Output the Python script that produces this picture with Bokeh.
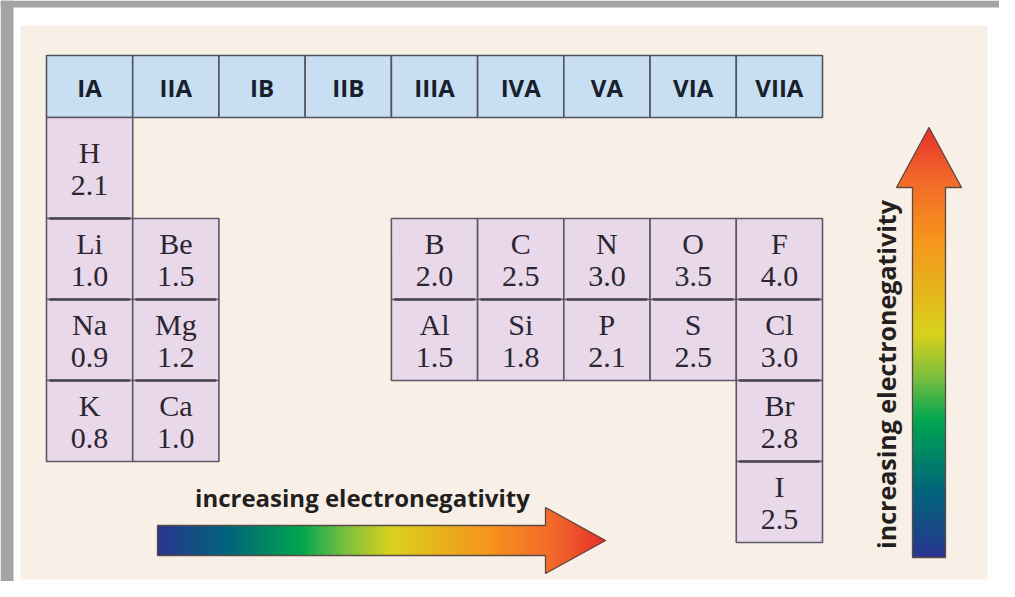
import numpy as np
from bokeh.plotting import figure
from bokeh.models import Range1d, ColumnDataSource
from bokeh.core.properties import value
from bokeh.embed import file_html
from bokeh.resources import INLINE

# ---------------- data ----------------
group_labels = ["IA", "IIA", "IB", "IIB", "IIIA", "IVA", "VA", "VIA", "VIIA"]
symbols = ["H", "Li", "Na", "K", "Be", "Mg", "Ca", "B", "Al", "C", "Si",
           "N", "P", "O", "S", "F", "Cl", "Br", "I"]
groups = ["IA", "IA", "IA", "IA", "IIA", "IIA", "IIA", "IIIA", "IIIA", "IVA", "IVA",
          "VA", "VA", "VIA", "VIA", "VIIA", "VIIA", "VIIA", "VIIA"]
periods = [1, 2, 3, 4, 2, 3, 4, 2, 3, 2, 3, 2, 3, 2, 3, 2, 3, 4, 5]
electronegativity = [2.1, 1.0, 0.9, 0.8, 1.5, 1.2, 1.0, 2.0, 1.5, 2.5, 1.8,
                     3.0, 2.1, 3.5, 2.5, 4.0, 3.0, 2.8, 2.5]
arrow_label = "increasing electronegativity"

# ---------------- layout (screen pixel units) ----------------
W, H = 999, 581
GRID_X0, GRID_X1 = 46.0, 822.0
CELL_W = (GRID_X1 - GRID_X0) / len(group_labels)
HEAD_Y0, HEAD_Y1 = 55.0, 117.0
P1_BOTTOM = 218.0
ROW_H = 81.0


def row_top(p):
    return HEAD_Y1 if p == 1 else P1_BOTTOM + (p - 2) * ROW_H


def row_bottom(p):
    return P1_BOTTOM if p == 1 else P1_BOTTOM + (p - 1) * ROW_H


def col_left(g):
    return GRID_X0 + group_labels.index(g) * CELL_W


p = figure(width=W, height=H, x_range=Range1d(0, W), y_range=Range1d(H, 0),
           output_backend="svg", toolbar_location=None,
           x_axis_type=None, y_axis_type=None, min_border=0)
p.min_border_left = p.min_border_right = p.min_border_top = p.min_border_bottom = 0
p.outline_line_color = None
p.background_fill_color = "white"
p.border_fill_color = "white"
p.grid.visible = False

# frame: gray edge, white margin, beige panel
p.quad(left=[0], right=[13], top=[0], bottom=[H], fill_color="#a4a4a4", line_color=None)
p.quad(left=[0], right=[W], top=[0], bottom=[7], fill_color="#a4a4a4", line_color=None)
p.quad(left=[20], right=[987], top=[25], bottom=[579], fill_color="#f8efe6", line_color=None)

# header row
hl = [GRID_X0 + i * CELL_W for i in range(len(group_labels))]
hsrc = ColumnDataSource(dict(left=hl, right=[x + CELL_W for x in hl],
                             top=[HEAD_Y0] * len(hl), bottom=[HEAD_Y1] * len(hl),
                             xc=[x + CELL_W / 2 for x in hl],
                             yc=[(HEAD_Y0 + HEAD_Y1) / 2 + 1] * len(hl),
                             label=group_labels))
p.quad(left="left", right="right", top="top", bottom="bottom", source=hsrc,
       fill_color="#c7def3", line_color="#52545e", line_width=1.6)
p.text(x="xc", y="yc", text="label", source=hsrc, text_align="center",
       text_baseline="middle", text_font=value("Open Sans"), text_font_style="bold",
       text_font_size="24px", text_color="#18202c")

# element cells
lefts = [col_left(g) for g in groups]
rights = [l + CELL_W for l in lefts]
tops = [row_top(pp) for pp in periods]
bottoms = [row_bottom(pp) for pp in periods]
centers = [(t + b) / 2 for t, b in zip(tops, bottoms)]
esrc = ColumnDataSource(dict(left=lefts, right=rights, top=tops, bottom=bottoms,
                             xc=[l + CELL_W / 2 for l in lefts],
                             ys=[c - 16 for c in centers],
                             yv=[c + 17 for c in centers],
                             sym=symbols,
                             val=["%.1f" % v for v in electronegativity]))
p.quad(left="left", right="right", top="top", bottom="bottom", source=esrc,
       fill_color="#e9d7ea", line_color="#5c5866", line_width=1.6)

# dividers between stacked cells of the same group
dx0, dx1, dy = [], [], []
for g, pp, l in zip(groups, periods, lefts):
    if any(g2 == g and p2 == pp - 1 for g2, p2 in zip(groups, periods)):
        dx0.append(l + 3)
        dx1.append(l + CELL_W - 3)
        dy.append(row_top(pp))
p.segment(x0=dx0, y0=dy, x1=dx1, y1=dy, line_color="#48444f", line_width=2.6)

p.text(x="xc", y="ys", text="sym", source=esrc, text_align="center",
       text_baseline="middle", text_font=value("Liberation Serif"),
       text_font_size="30px", text_color="#2b2631")
p.text(x="xc", y="yv", text="val", source=esrc, text_align="center",
       text_baseline="middle", text_font=value("Liberation Serif"),
       text_font_size="30px", text_color="#2b2631")

# ---------------- gradient arrows (colour slices) ----------------
stops = [0.0, 0.16, 0.32, 0.42, 0.52, 0.74, 0.88, 1.0]
stop_cols = ["#2a3590", "#00677a", "#00a651", "#7dbf3f", "#d8d21c", "#f7941d",
             "#f26a2a", "#e8302a"]
stop_rgb = np.array([[int(c[i:i + 2], 16) for i in (1, 3, 5)] for c in stop_cols], float)


def grad_hex(t):
    r, g, b = (np.interp(t, stops, stop_rgb[:, k]) for k in range(3))
    return "#%02x%02x%02x" % (int(r), int(g), int(b))


def slices(length, half_w, half_head, head_len, step=1.0):
    n = int(np.ceil(length / step))
    s0 = np.arange(n) * step
    mid = s0 + step / 2
    hw = np.where(mid <= length - head_len, half_w,
                  half_head * np.clip(length - mid, 0, None) / head_len)
    cols = [grad_hex(m / length) for m in mid]
    return s0, hw, cols


# horizontal arrow
hx0, hx1, hyc, hhw, hhh, hhl = 157.0, 605.0, 540.0, 15.0, 33.0, 60.0
s0, hw, cols = slices(hx1 - hx0, hhw, hhh, hhl)
p.quad(left=hx0 + s0, right=hx0 + s0 + 1.6, top=hyc - hw, bottom=hyc + hw,
       fill_color=cols, line_color=None)
hb = hx1 - hhl
p.patch(x=[hx0, hb, hb, hx1, hb, hb, hx0],
        y=[hyc - hhw, hyc - hhw, hyc - hhh, hyc, hyc + hhh, hyc + hhw, hyc + hhw],
        fill_color=None, line_color="#5a4c44", line_width=1.3)
p.text(x=[362], y=[497], text=[arrow_label], text_align="center", text_baseline="middle",
       text_font=value("Open Sans"), text_font_style="bold", text_font_size="24px",
       text_color="#231f20")

# vertical arrow
vxc, vy0, vy1, vhw, vhh, vhl = 928.5, 557.0, 127.0, 16.5, 32.5, 60.0
s0, hw, cols = slices(vy0 - vy1, vhw, vhh, vhl)
p.quad(left=vxc - hw, right=vxc + hw, bottom=vy0 - s0, top=vy0 - s0 - 1.6,
       fill_color=cols, line_color=None)
vb = vy1 + vhl
p.patch(x=[vxc - vhw, vxc - vhw, vxc - vhh, vxc, vxc + vhh, vxc + vhw, vxc + vhw],
        y=[vy0, vb, vb, vy1, vb, vb, vy0],
        fill_color=None, line_color="#5a4c44", line_width=1.3)
p.text(x=[885], y=[374], text=[arrow_label], angle=np.pi / 2, text_align="center",
       text_baseline="middle", text_font=value("Open Sans"), text_font_style="bold",
       text_font_size="25px", text_color="#231f20")

open("out.html", "w").write(file_html(p, INLINE))
